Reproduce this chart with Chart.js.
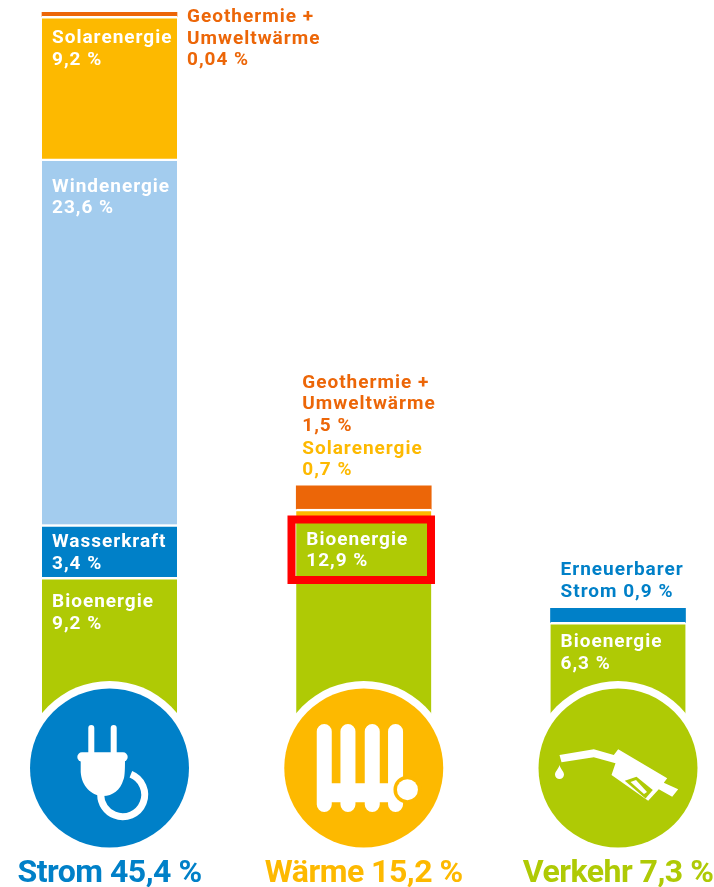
<!DOCTYPE html>
<html lang="de">
<head>
<meta charset="utf-8">
<title>Erneuerbare Energien</title>
<script src="https://cdn.jsdelivr.net/npm/chart.js@4"></script>
<style>
  html, body { margin: 0; padding: 0; background: #fff; }
  canvas { display: block; }
</style>
</head>
<body>
<canvas id="chart" width="714" height="887"></canvas>
<script>
const categories = ['Strom 45,4 %', 'Wärme 15,2 %', 'Verkehr 7,3 %'];
const bioenergie = [9.2, 12.9, 6.3];
const wasserkraft = [3.4, null, null];
const erneuerbarerStrom = [null, null, 0.9];
const windenergie = [23.6, null, null];
const solarenergie = [9.2, 0.7, null];
const geothermie = [0.04, 1.5, null];

const ORANGE = '#EC6608';
const YELLOW = '#FDB900';
const LIGHTBLUE = '#A3CCEE';
const BLUE = '#0080C8';
const GREEN = '#AFCA05';
const categoryColors = [BLUE, YELLOW, GREEN];

const FONT = 'Roboto, sans-serif';

function segment(label, data, color, extra) {
    return Object.assign({
        label: label,
        data: data,
        backgroundColor: color,
        borderColor: '#fff',
        borderWidth: { top: 2.5, right: 0, bottom: 0, left: 0 },
        borderSkipped: false,
        barThickness: 135,
        clip: false,
        stack: 'a'
    }, extra);
}

const de = v => v.toLocaleString('de-DE') + ' %';

// where the texts sit, relative to the top left corner of their segment
const segmentLabels = [
    { set: 5, i: 0, lines: ['Geothermie +', 'Umweltwärme', de(geothermie[0])], dx: 145, dy: 5, color: ORANGE },
    { set: 4, i: 0, lines: ['Solarenergie', de(solarenergie[0])], dx: 10, dy: 22, color: '#fff' },
    { set: 3, i: 0, lines: ['Windenergie', de(windenergie[0])], dx: 10, dy: 28, color: '#fff' },
    { set: 1, i: 0, lines: ['Wasserkraft', de(wasserkraft[0])], dx: 10, dy: 18, color: '#fff' },
    { set: 0, i: 0, lines: ['Bioenergie', de(bioenergie[0])], dx: 10, dy: 25, color: '#fff' },
    { set: 5, i: 1, lines: ['Geothermie +', 'Umweltwärme', de(geothermie[1])], dx: 6, dy: -103, color: ORANGE },
    { set: 4, i: 1, lines: ['Solarenergie', de(solarenergie[1])], dx: 6, dy: -60, color: YELLOW },
    { set: 0, i: 1, lines: ['Bioenergie', de(bioenergie[1])], dx: 10, dy: 20, color: '#fff' },
    { set: 2, i: 2, lines: ['Erneuerbarer', 'Strom ' + de(erneuerbarerStrom[2])], dx: 10, dy: -38, color: BLUE },
    { set: 0, i: 2, lines: ['Bioenergie', de(bioenergie[2])], dx: 10, dy: 20, color: '#fff' }
];

function path(ctx, points) {
    ctx.beginPath();
    points.forEach((p, n) => n ? ctx.lineTo(p[0], p[1]) : ctx.moveTo(p[0], p[1]));
    ctx.closePath();
}

function drawPlug(ctx, cx, cy) {
    ctx.save();
    ctx.translate(cx, cy);
    ctx.fillStyle = '#fff';
    // prongs
    ctx.beginPath();
    ctx.roundRect(-21.2, -43, 6, 30, [3, 3, 0, 0]);
    ctx.roundRect(1.2, -43, 6, 30, [3, 3, 0, 0]);
    ctx.fill();
    // flange
    ctx.beginPath();
    ctx.roundRect(-32.2, -15.7, 50.4, 9.4, 4.7);
    ctx.fill();
    // cord
    ctx.strokeStyle = '#fff';
    ctx.lineWidth = 7;
    ctx.beginPath();
    ctx.arc(13.2, 26.7, 22, -1.19, Math.PI, false);
    ctx.stroke();
    // body
    ctx.beginPath();
    ctx.moveTo(-28.8, -8);
    ctx.lineTo(15.5, -8);
    ctx.bezierCurveTo(15.5, 4, 15, 10, 13.8, 12);
    ctx.bezierCurveTo(11, 22, 3, 28, -6.2, 28);
    ctx.bezierCurveTo(-18, 28, -28, 18, -28.8, 4);
    ctx.closePath();
    ctx.fill();
    ctx.restore();
}

function drawRadiator(ctx, cx, cy, bg) {
    ctx.save();
    ctx.translate(cx, cy);
    ctx.fillStyle = '#fff';
    ctx.beginPath();
    [-47, -23.3, 1, 24.3].forEach(x => ctx.roundRect(x, -44, 15, 88, 7.5));
    ctx.rect(-47, 15.3, 87, 19);
    ctx.fill();
    ctx.fillStyle = bg;
    ctx.beginPath();
    ctx.arc(43.7, 21.7, 14, 0, Math.PI * 2);
    ctx.fill();
    ctx.fillStyle = '#fff';
    ctx.beginPath();
    ctx.arc(43.7, 21.7, 10.5, 0, Math.PI * 2);
    ctx.fill();
    ctx.restore();
}

function drawNozzle(ctx, cx, cy, bg) {
    ctx.save();
    ctx.translate(cx, cy);
    ctx.fillStyle = '#fff';
    path(ctx, [[-58.5, -13], [-24.2, -18.7], [-4.2, -13], [0.2, -18.7], [49.2, 10.3], [45.8, 14.7], [60.2, 21.3],
        [54.2, 28.7], [40.8, 21.3], [30.2, 32.7], [-6.5, 7], [-2.5, -4.7], [-24.2, -10.7], [-56.5, -5.7]]);
    ctx.fill();
    // drop
    ctx.beginPath();
    ctx.moveTo(-58.5, -3);
    ctx.bezierCurveTo(-59.5, 1, -63, 3.5, -63, 6.5);
    ctx.arc(-58.5, 6.5, 4.5, Math.PI, 0, true);
    ctx.bezierCurveTo(-54, 3.5, -57.5, 1, -58.5, -3);
    ctx.fill();
    // window of the handle
    ctx.fillStyle = bg;
    path(ctx, [[6.8, 12.7], [18.5, 8.7], [34.8, 22], [27.5, 30.5]]);
    ctx.fill();
    ctx.fillStyle = '#fff';
    path(ctx, [[12.5, 14], [18, 12], [29, 24], [26, 26]]);
    ctx.fill();
    ctx.restore();
}

const iconDrawers = [drawPlug, drawRadiator, drawNozzle];

const extrasPlugin = {
    id: 'extras',
    beforeDraw(chart) {
        chart.ctx.letterSpacing = '-0.5px';
    },
    afterDatasetsDraw(chart) {
        const ctx = chart.ctx;
        const xScale = chart.scales.x;
        const baseY = chart.chartArea.bottom;

        // circles with their white ring
        categories.forEach((c, i) => {
            const cx = xScale.getPixelForTick(i);
            const cy = baseY + 48;
            ctx.fillStyle = '#fff';
            ctx.beginPath();
            ctx.arc(cx, cy, 87, 0, Math.PI * 2);
            ctx.fill();
            ctx.fillStyle = categoryColors[i];
            ctx.beginPath();
            ctx.arc(cx, cy, 79.5, 0, Math.PI * 2);
            ctx.fill();
            iconDrawers[i](ctx, cx, cy, categoryColors[i]);
        });

        // red marker around the heat bioenergy label
        ctx.strokeStyle = '#FF0000';
        ctx.lineWidth = 8;
        ctx.strokeRect(291.5, 519.5, 139.5, 60.5);

        // segment texts
        ctx.save();
        ctx.font = 'bold 19px ' + FONT;
        ctx.textAlign = 'left';
        ctx.textBaseline = 'middle';
        ctx.letterSpacing = '1px';
        segmentLabels.forEach(l => {
            const bar = chart.getDatasetMeta(l.set).data[l.i];
            const left = bar.x - bar.width / 2;
            ctx.fillStyle = l.color;
            l.lines.forEach((t, n) => ctx.fillText(t, left + l.dx, bar.y + l.dy + n * 21.5));
        });
        ctx.restore();
    }
};

const noGap = { borderWidth: 0 };

new Chart(document.getElementById('chart'), {
    type: 'bar',
    data: {
        labels: categories,
        datasets: [
            segment('Bioenergie', bioenergie, GREEN),
            segment('Wasserkraft', wasserkraft, BLUE),
            segment('Erneuerbarer Strom', erneuerbarerStrom, BLUE, noGap),
            segment('Windenergie', windenergie, LIGHTBLUE),
            segment('Solarenergie', solarenergie, YELLOW),
            segment('Geothermie + Umweltwärme', geothermie, ORANGE, { borderWidth: 0, minBarLength: 4 })
        ]
    },
    plugins: [extrasPlugin],
    options: {
        responsive: false,
        animation: false,
        layout: { padding: { top: 7, left: 109.5, right: 96, bottom: 0 } },
        plugins: { legend: { display: false }, tooltip: { enabled: false } },
        scales: {
            y: {
                stacked: true,
                min: 0,
                max: 46,
                display: false
            },
            x: {
                stacked: true,
                offset: false,
                border: { display: false },
                grid: { display: false, drawTicks: false },
                afterFit: scale => {
                    scale.height = 167;
                    scale.paddingLeft = 0;
                    scale.paddingRight = 0;
                },
                ticks: {
                    autoSkip: false,
                    maxRotation: 0,
                    padding: 135,
                    font: { family: FONT, size: 32, weight: 'bold' },
                    color: ctx => categoryColors[ctx.index]
                }
            }
        }
    }
});
</script>
</body>
</html>
